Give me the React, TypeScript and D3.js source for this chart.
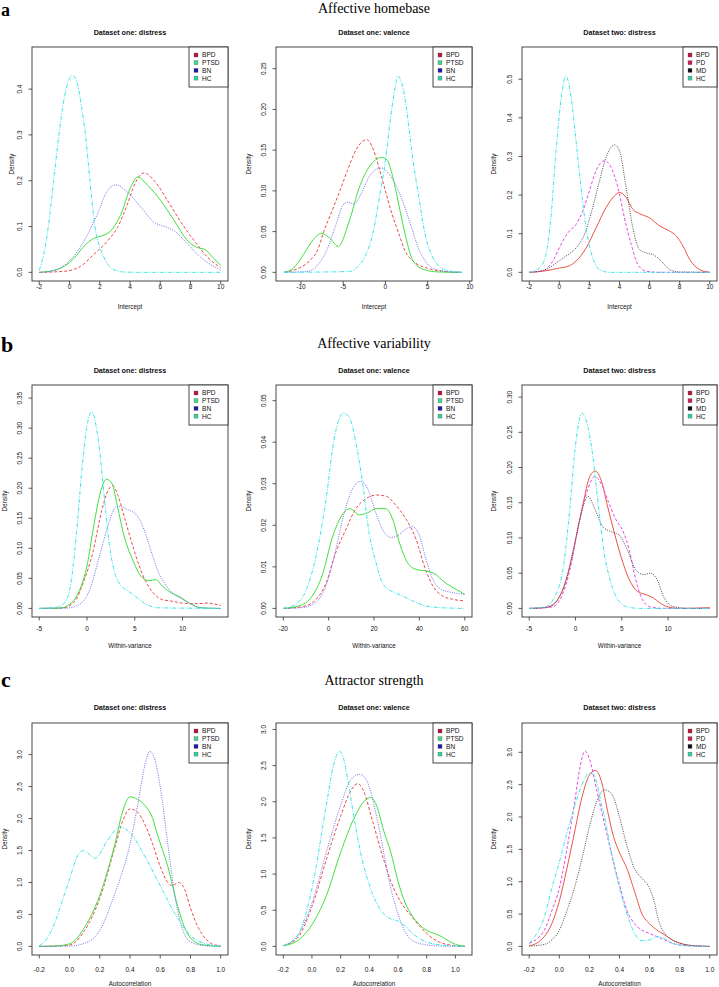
import React from 'react';
import * as d3 from 'd3';

type Pt = [number, number];

const groupsOne = ['BPD', 'PTSD', 'BN', 'HC'];
const groupsTwo = ['BPD', 'PD', 'MD', 'HC'];
const sectionLetters = ['a', 'b', 'c'];
const sectionTitles = ['Affective homebase', 'Affective variability', 'Attractor strength'];
const panelTitles = ['Dataset one: distress', 'Dataset one: valence', 'Dataset two: distress'];
const xAxisTitles = ['Intercept', 'Within-variance', 'Autocorrelation'];

// data limits (R xlim / ylim) per panel, row-major
const xLimits: Pt[] = [[-2, 10], [-12.1, 9.4], [-2, 10], [-5, 14], [-20, 60], [-5, 14.5], [-0.2, 1], [-0.2, 1.065], [-0.2, 1]];
const yMaxLimits = [0.473, 0.266, 0.561, 0.3575, 0.0517, 0.305, 3.36, 2.97, 3.32];
const xTickValues = [
  [-2, 0, 2, 4, 6, 8, 10], [-10, -5, 0, 5, 10], [-2, 0, 2, 4, 6, 8, 10],
  [-5, 0, 5, 10], [-20, 0, 20, 40, 60], [-5, 0, 5, 10],
  [-0.2, 0, 0.2, 0.4, 0.6, 0.8, 1], [-0.2, 0, 0.2, 0.4, 0.6, 0.8, 1], [-0.2, 0, 0.2, 0.4, 0.6, 0.8, 1],
];
const xTickDecimals = [0, 0, 0, 0, 0, 0, 1, 1, 1];
const yTickValues = [
  [0, 0.1, 0.2, 0.3, 0.4], [0, 0.05, 0.1, 0.15, 0.2, 0.25], [0, 0.1, 0.2, 0.3, 0.4, 0.5],
  [0, 0.05, 0.1, 0.15, 0.2, 0.25, 0.3, 0.35], [0, 0.01, 0.02, 0.03, 0.04, 0.05], [0, 0.05, 0.1, 0.15, 0.2, 0.25, 0.3],
  [0, 0.5, 1, 1.5, 2, 2.5, 3], [0, 0.5, 1, 1.5, 2, 2.5, 3], [0, 0.5, 1, 1.5, 2, 2.5, 3],
];
const yTickDecimals = [1, 2, 1, 2, 2, 2, 1, 1, 1];

// ---- a: Affective homebase ----
const a1BPD: Pt[] = [[-2, 0], [-1, 0.001], [-0.16, 0.003], [0.73, 0.013], [1.6, 0.039], [2.5, 0.068], [3.17, 0.098], [3.83, 0.149], [4.28, 0.19], [4.72, 0.214], [4.95, 0.217], [5.6, 0.2], [6.5, 0.156], [7.38, 0.109], [8.27, 0.068], [9.16, 0.032], [10, 0.01]];
const a1PTSD: Pt[] = [[-2, 0], [-0.82, 0.006], [0.28, 0.03], [0.95, 0.057], [1.6, 0.074], [2.06, 0.079], [2.72, 0.09], [3.4, 0.127], [4.05, 0.186], [4.5, 0.208], [5.17, 0.19], [6.05, 0.156], [6.94, 0.112], [7.83, 0.068], [8.49, 0.054], [8.94, 0.05], [9.5, 0.032], [10, 0.015]];
const a1BN: Pt[] = [[-2, 0], [-1.27, 0.002], [-0.6, 0.01], [-0.16, 0.02], [0.95, 0.068], [1.84, 0.127], [2.5, 0.178], [3.06, 0.191], [3.83, 0.175], [4.72, 0.142], [5.6, 0.109], [6.38, 0.099], [6.94, 0.09], [7.83, 0.061], [8.7, 0.032], [10, 0.005]];
const a1HC: Pt[] = [[-2, 0.005], [-1.7, 0.04], [-1.4, 0.1], [-1.05, 0.2], [-0.7, 0.3], [-0.35, 0.38], [-0.1, 0.415], [0.2, 0.43], [0.5, 0.415], [0.8, 0.36], [1.06, 0.3], [1.35, 0.2], [1.68, 0.1], [2.06, 0.05], [2.4, 0.025], [2.8, 0.008], [3.5, 0.001], [4.5, 0], [10, 0]];

const a2BPD: Pt[] = [[-12, 0], [-10.5, 0.004], [-9, 0.014], [-8, 0.028], [-7.3, 0.05], [-6.3, 0.076], [-5.4, 0.1], [-4.5, 0.125], [-3.5, 0.15], [-2.8, 0.16], [-2.2, 0.163], [-1.6, 0.155], [-0.8, 0.13], [0, 0.1], [0.8, 0.071], [1.6, 0.047], [2.3, 0.027], [3.5, 0.012], [5, 0.005], [7, 0.001], [9, 0]];
const a2PTSD: Pt[] = [[-12, 0], [-10.9, 0.005], [-9.7, 0.022], [-8.55, 0.04], [-7.6, 0.048], [-6.6, 0.042], [-5.6, 0.032], [-4.28, 0.063], [-3.1, 0.104], [-1.95, 0.129], [-1.17, 0.138], [-0.47, 0.141], [0.2, 0.138], [0.78, 0.121], [1.17, 0.104], [1.75, 0.075], [2.33, 0.047], [3.1, 0.018], [3.9, 0.007], [4.7, 0.003], [6.2, 0.0005], [9, 0]];
const a2BN: Pt[] = [[-12, 0], [-9.3, 0.001], [-8.2, 0.007], [-7, 0.026], [-5.84, 0.059], [-5.06, 0.082], [-4.5, 0.086], [-3.7, 0.084], [-2.9, 0.096], [-1.95, 0.117], [-0.97, 0.127], [-0.4, 0.128], [0.4, 0.121], [1.56, 0.1], [2.33, 0.079], [3.1, 0.055], [3.9, 0.03], [4.86, 0.012], [6.2, 0.003], [7.8, 0.0005], [9, 0]];
const a2HC: Pt[] = [[-12, 0], [-4.3, 0.001], [-3.1, 0.009], [-2.3, 0.022], [-1.5, 0.047], [-0.78, 0.088], [0, 0.137], [0.58, 0.187], [1.17, 0.228], [1.44, 0.241], [1.95, 0.232], [2.53, 0.199], [3.1, 0.15], [3.9, 0.096], [4.7, 0.047], [5.45, 0.022], [6.2, 0.009], [7.4, 0.002], [9.2, 0]];

const a3BPD: Pt[] = [[-2, 0], [-0.89, 0.004], [0, 0.011], [0.67, 0.017], [1.11, 0.029], [1.78, 0.063], [2.44, 0.115], [3.11, 0.168], [3.67, 0.198], [4, 0.207], [4.44, 0.194], [4.89, 0.163], [5.33, 0.152], [6, 0.141], [6.67, 0.12], [7.33, 0.107], [7.78, 0.094], [8.22, 0.068], [8.67, 0.033], [9.33, 0.007], [10, 0]];
const a3PD: Pt[] = [[-2, 0], [-1.1, 0.004], [-0.44, 0.029], [0, 0.063], [0.33, 0.088], [0.67, 0.107], [1.11, 0.124], [1.56, 0.159], [2, 0.211], [2.44, 0.263], [3, 0.289], [3.44, 0.272], [3.89, 0.22], [4.33, 0.141], [4.78, 0.072], [5.22, 0.02], [5.78, 0.003], [6.67, 0], [10, 0]];
const a3MD: Pt[] = [[-2, 0], [-0.89, 0.007], [-0.22, 0.024], [0.44, 0.042], [1.11, 0.063], [1.67, 0.098], [2.22, 0.168], [2.67, 0.237], [3.11, 0.298], [3.67, 0.33], [4, 0.315], [4.44, 0.22], [4.89, 0.115], [5.33, 0.059], [5.78, 0.05], [6.22, 0.046], [6.78, 0.029], [7.33, 0.007], [8, 0.001], [10, 0]];
const a3HC: Pt[] = [[-2, 0], [-1.33, 0.011], [-0.89, 0.046], [-0.56, 0.141], [-0.22, 0.315], [0.11, 0.445], [0.44, 0.508], [0.78, 0.454], [1.11, 0.341], [1.44, 0.22], [1.78, 0.115], [2.22, 0.037], [2.67, 0.007], [3.33, 0], [10, 0]];

// ---- b: Affective variability ----
const b1BPD: Pt[] = [[-5, 0], [-2.5, 0.001], [-1.27, 0.012], [-0.39, 0.043], [0.6, 0.093], [1.5, 0.16], [2.2, 0.196], [2.7, 0.204], [3.2, 0.19], [3.76, 0.16], [4.47, 0.121], [5.35, 0.076], [6.05, 0.048], [6.93, 0.026], [7.8, 0.015], [8.87, 0.012], [9.9, 0.009], [11, 0.008], [11.8, 0.008], [12.7, 0.009], [13.4, 0.007], [14, 0.005]];
const b1PTSD: Pt[] = [[-5, 0], [-2.85, 0.0005], [-1.8, 0.007], [-0.74, 0.032], [0, 0.071], [0.7, 0.137], [1.4, 0.193], [2.04, 0.215], [2.64, 0.207], [3.17, 0.171], [3.87, 0.121], [4.75, 0.082], [5.63, 0.054], [6.5, 0.046], [7.2, 0.048], [7.9, 0.037], [8.8, 0.026], [9.85, 0.018], [10.7, 0.009], [11.96, 0.001], [14, 0]];
const b1BN: Pt[] = [[-5, 0], [-2.15, 0.0005], [-0.74, 0.007], [0.3, 0.032], [1.4, 0.093], [2.3, 0.143], [2.96, 0.168], [3.3, 0.17], [4.2, 0.165], [5.25, 0.154], [5.95, 0.132], [6.66, 0.098], [7.36, 0.065], [8.06, 0.043], [8.94, 0.026], [10, 0.015], [10.9, 0.007], [12, 0.001], [14, 0]];
const b1HC: Pt[] = [[-5, 0], [-3.56, 0.001], [-2.5, 0.007], [-1.8, 0.032], [-1.1, 0.126], [-0.56, 0.226], [0, 0.304], [0.49, 0.327], [0.95, 0.304], [1.3, 0.265], [1.83, 0.182], [2.36, 0.104], [2.89, 0.06], [3.6, 0.037], [4.3, 0.029], [5, 0.021], [6.06, 0.008], [7.5, 0.001], [14, 0]];

const b2BPD: Pt[] = [[-20, 0], [-11.7, 0.0004], [-5.8, 0.002], [-1.2, 0.006], [3.2, 0.0135], [7.6, 0.019], [12, 0.024], [16.5, 0.0264], [20.8, 0.0273], [25.3, 0.027], [29.7, 0.0248], [34.1, 0.0215], [38.5, 0.0167], [42.2, 0.0102], [45.9, 0.0054], [50.3, 0.003], [54.7, 0.0022], [60, 0.0018]];
const b2PTSD: Pt[] = [[-20, 0], [-13.1, 0.0006], [-7.2, 0.003], [-2.8, 0.008], [1.6, 0.017], [5.4, 0.022], [9.5, 0.024], [13.5, 0.0225], [17.2, 0.023], [20.8, 0.024], [25.2, 0.024], [28.2, 0.0215], [31.1, 0.016], [34.8, 0.011], [38.5, 0.0094], [42.9, 0.009], [45.9, 0.0086], [51.8, 0.006], [56.2, 0.0046], [60, 0.0034]];
const b2BN: Pt[] = [[-20, 0], [-11.7, 0.0002], [-5.8, 0.0014], [-1.2, 0.0054], [3.2, 0.0143], [6.9, 0.023], [10.6, 0.0288], [14.2, 0.0306], [17.2, 0.0288], [20.8, 0.023], [24.5, 0.0183], [27.5, 0.0171], [30.4, 0.0175], [34.1, 0.0191], [37, 0.0197], [40, 0.0175], [42.9, 0.0119], [45.9, 0.007], [49.6, 0.0046], [54.7, 0.0038], [60, 0.0034]];
const b2HC: Pt[] = [[-20, 0], [-14.6, 0.001], [-10.2, 0.004], [-5.8, 0.012], [-1.2, 0.026], [2.5, 0.041], [6.5, 0.047], [9.1, 0.046], [12, 0.04], [15, 0.03], [17.9, 0.018], [20.9, 0.011], [23.8, 0.006], [28.2, 0.004], [32.6, 0.003], [37, 0.0018], [42.9, 0.0006], [48.8, 0.0002], [60, 0]];

const b3BPD: Pt[] = [[-5, 0], [-3.3, 0.001], [-2.23, 0.008], [-1.13, 0.036], [-0.07, 0.093], [0.82, 0.149], [1.53, 0.187], [2.13, 0.195], [2.77, 0.182], [3.48, 0.144], [4.2, 0.107], [4.9, 0.074], [5.8, 0.041], [6.7, 0.024], [7.5, 0.02], [8.4, 0.015], [9.1, 0.008], [10, 0.002], [11.24, 0], [14.5, 0.001]];
const b3PD: Pt[] = [[-5, 0], [-2.55, 0.002], [-1.5, 0.017], [-0.6, 0.055], [0.28, 0.116], [1.17, 0.163], [2.06, 0.187], [2.77, 0.177], [3.48, 0.154], [4.37, 0.126], [5.08, 0.111], [5.8, 0.083], [6.5, 0.041], [7.2, 0.013], [8.1, 0.002], [9.5, 0], [14.5, 0]];
const b3MD: Pt[] = [[-5, 0], [-2.9, 0.002], [-1.5, 0.022], [-0.43, 0.069], [0.46, 0.126], [1.35, 0.159], [2.06, 0.142], [2.95, 0.116], [3.83, 0.109], [4.72, 0.104], [5.6, 0.083], [6.5, 0.055], [7.4, 0.048], [8.1, 0.05], [8.8, 0.041], [9.5, 0.017], [10.5, 0.003], [12.3, 0], [14.5, 0]];
const b3HC: Pt[] = [[-5, 0], [-3.3, 0.002], [-2.23, 0.017], [-1.3, 0.06], [-0.6, 0.144], [-0.07, 0.224], [0.71, 0.277], [1.35, 0.257], [1.88, 0.215], [2.4, 0.154], [3.1, 0.079], [3.83, 0.036], [4.54, 0.013], [5.6, 0.002], [7, 0], [14.5, 0]];

// ---- c: Attractor strength ----
const c1BPD: Pt[] = [[-0.2, 0], [0, 0.02], [0.1, 0.25], [0.2, 0.75], [0.3, 1.55], [0.35, 1.95], [0.4, 2.15], [0.45, 2.1], [0.5, 1.9], [0.55, 1.6], [0.6, 1.25], [0.65, 1.0], [0.68, 0.95], [0.72, 1.0], [0.76, 0.9], [0.8, 0.6], [0.85, 0.3], [0.9, 0.12], [0.95, 0.03], [1, 0.01]];
const c1PTSD: Pt[] = [[-0.2, 0], [-0.1, 0.005], [0, 0.04], [0.1, 0.3], [0.2, 0.8], [0.3, 1.6], [0.35, 2.1], [0.4, 2.34], [0.45, 2.3], [0.5, 2.2], [0.55, 2.0], [0.58, 1.76], [0.65, 1.25], [0.716, 0.62], [0.78, 0.2], [0.87, 0.03], [1, 0]];
const c1BN: Pt[] = [[-0.2, 0], [0, 0.005], [0.1, 0.05], [0.2, 0.25], [0.3, 0.83], [0.4, 1.6], [0.45, 2.2], [0.5, 2.85], [0.53, 3.05], [0.56, 2.95], [0.6, 2.5], [0.65, 1.6], [0.7, 0.75], [0.75, 0.25], [0.8, 0.07], [0.9, 0.01], [1, 0]];
const c1HC: Pt[] = [[-0.2, 0.01], [-0.15, 0.12], [-0.1, 0.35], [-0.05, 0.7], [0, 1.05], [0.05, 1.4], [0.09, 1.5], [0.17, 1.38], [0.25, 1.65], [0.33, 1.87], [0.4, 1.78], [0.5, 1.4], [0.6, 0.95], [0.7, 0.5], [0.8, 0.17], [0.9, 0.04], [1, 0]];

const c2BPD: Pt[] = [[-0.2, 0.01], [-0.1, 0.12], [0, 0.55], [0.1, 1.2], [0.2, 1.8], [0.27, 2.15], [0.32, 2.25], [0.36, 2.15], [0.42, 1.75], [0.5, 1.2], [0.55, 0.9], [0.6, 0.68], [0.7, 0.4], [0.75, 0.28], [0.8, 0.18], [0.85, 0.1], [0.9, 0.05], [1, 0.01], [1.065, 0]];
const c2PTSD: Pt[] = [[-0.2, 0.01], [-0.1, 0.08], [0, 0.3], [0.1, 0.7], [0.2, 1.3], [0.3, 1.8], [0.37, 2.02], [0.41, 2.06], [0.45, 1.95], [0.5, 1.6], [0.55, 1.3], [0.6, 0.9], [0.65, 0.6], [0.7, 0.42], [0.75, 0.3], [0.8, 0.22], [0.85, 0.18], [0.9, 0.14], [0.95, 0.08], [1, 0.03], [1.065, 0.005]];
const c2BN: Pt[] = [[-0.2, 0.01], [-0.1, 0.15], [0, 0.6], [0.1, 1.3], [0.2, 1.95], [0.27, 2.3], [0.33, 2.38], [0.38, 2.3], [0.45, 1.8], [0.5, 1.3], [0.55, 0.8], [0.6, 0.45], [0.65, 0.2], [0.7, 0.08], [0.8, 0.02], [0.9, 0.005], [1.065, 0]];
const c2HC: Pt[] = [[-0.2, 0.01], [-0.1, 0.15], [0, 0.8], [0.1, 1.95], [0.15, 2.5], [0.19, 2.7], [0.22, 2.6], [0.25, 2.3], [0.3, 1.7], [0.35, 1.2], [0.4, 0.85], [0.45, 0.6], [0.5, 0.45], [0.55, 0.38], [0.6, 0.35], [0.65, 0.28], [0.7, 0.18], [0.8, 0.06], [0.9, 0.02], [1, 0.005], [1.065, 0]];

const c3BPD: Pt[] = [[-0.2, 0.01], [-0.15, 0.05], [-0.1, 0.15], [-0.05, 0.35], [0, 0.7], [0.05, 1.2], [0.1, 1.75], [0.15, 2.3], [0.2, 2.65], [0.24, 2.72], [0.28, 2.55], [0.32, 2.1], [0.36, 1.7], [0.4, 1.45], [0.45, 1.2], [0.5, 0.85], [0.55, 0.5], [0.6, 0.35], [0.65, 0.25], [0.7, 0.18], [0.75, 0.1], [0.8, 0.05], [0.9, 0.01], [1, 0]];
const c3PD: Pt[] = [[-0.2, 0.05], [-0.1, 0.25], [-0.05, 0.55], [0, 0.9], [0.05, 1.5], [0.1, 2.2], [0.14, 2.8], [0.17, 3.02], [0.2, 2.9], [0.25, 2.4], [0.3, 1.9], [0.35, 1.4], [0.4, 0.95], [0.45, 0.55], [0.5, 0.35], [0.55, 0.25], [0.6, 0.2], [0.65, 0.15], [0.7, 0.1], [0.75, 0.05], [0.8, 0.02], [0.9, 0.005], [1, 0]];
const c3MD: Pt[] = [[-0.2, 0.005], [-0.1, 0.03], [-0.05, 0.1], [0, 0.25], [0.05, 0.55], [0.1, 0.9], [0.15, 1.35], [0.2, 1.85], [0.25, 2.25], [0.3, 2.42], [0.35, 2.35], [0.4, 2.0], [0.45, 1.55], [0.5, 1.2], [0.55, 1.05], [0.6, 0.9], [0.63, 0.7], [0.66, 0.4], [0.7, 0.2], [0.75, 0.1], [0.8, 0.05], [0.9, 0.01], [1, 0]];
const c3HC: Pt[] = [[-0.2, 0.05], [-0.15, 0.2], [-0.1, 0.45], [-0.05, 0.9], [0, 1.3], [0.05, 1.75], [0.1, 2.15], [0.15, 2.5], [0.2, 2.68], [0.23, 2.65], [0.28, 2.2], [0.3, 2.0], [0.35, 1.4], [0.4, 0.9], [0.45, 0.5], [0.5, 0.2], [0.55, 0.09], [0.6, 0.1], [0.65, 0.15], [0.7, 0.12], [0.75, 0.05], [0.8, 0.02], [0.9, 0.005], [1, 0]];

const panelSeries: Pt[][][] = [
  [a1BPD, a1PTSD, a1BN, a1HC], [a2BPD, a2PTSD, a2BN, a2HC], [a3BPD, a3PD, a3MD, a3HC],
  [b1BPD, b1PTSD, b1BN, b1HC], [b2BPD, b2PTSD, b2BN, b2HC], [b3BPD, b3PD, b3MD, b3HC],
  [c1BPD, c1PTSD, c1BN, c1HC], [c2BPD, c2PTSD, c2BN, c2HC], [c3BPD, c3PD, c3MD, c3HC],
];

// ---- styles ----
const lineStyleOne = [
  { color: '#f04848', dash: '3,2' },
  { color: '#3fe03f', dash: '' },
  { color: '#6e6eee', dash: '1,1.3' },
  { color: '#3fe4ea', dash: '4,1.5,1,1.5' },
];
const lineStyleTwo = [
  { color: '#ec5445', dash: '' },
  { color: '#e648e6', dash: '3,2' },
  { color: '#4a4a4a', dash: '1,1.3' },
  { color: '#3fe4ea', dash: '4,1.5,1,1.5' },
];
const legendFillOne = ['#b8173d', '#3ed98a', '#1b1ba3', '#33d19e'];
const legendFillTwo = ['#b8173d', '#c81e55', '#111111', '#33d19e'];

// ---- layout ----
const W = 719;
const H = 987;
const colLeft = [32, 276, 522];
const colRight = [228, 472, 717];
const rowTop = [47, 385, 723];
const rowBottom = [281, 617, 955];
const densityX = [[12, 249, 494], [5, 249, 494], [5, 249, 494]];
const xLabelY = [289, 631, 972];
const xTitleY = [309, 648, 986];
const subtitleY = [34.5, 372.5, 709.5];
const sectionTitleY = [12.5, 348, 685];
const letterY = [16, 352, 687];

const SANS = '"Liberation Sans", Arial, Helvetica, sans-serif';
const SERIF = '"Liberation Serif", "Times New Roman", serif';

function Panel({ idx }: { idx: number }) {
  const row = Math.floor(idx / 3);
  const col = idx % 3;
  const left = colLeft[col];
  const right = colRight[col];
  const top = rowTop[row];
  const bottom = rowBottom[row];
  const [x0, x1] = xLimits[idx];
  const xPad = (x1 - x0) * 0.04;
  const yMax = yMaxLimits[idx];
  const yPad = yMax * 0.04;
  const x = d3.scaleLinear().domain([x0 - xPad, x1 + xPad]).range([left, right]);
  const y = d3.scaleLinear().domain([-yPad, yMax + yPad]).range([bottom, top]);
  const line = d3
    .line<Pt>()
    .x((d) => x(d[0]))
    .y((d) => y(d[1]))
    .curve(d3.curveMonotoneX);
  const isTwo = col === 2;
  const groups = isTwo ? groupsTwo : groupsOne;
  const styles = isTwo ? lineStyleTwo : lineStyleOne;
  const fills = isTwo ? legendFillTwo : legendFillOne;
  const legW = isTwo ? 34 : 39;
  const legL = right - legW;
  const cx = (left + right) / 2;
  const cy = (top + bottom) / 2;
  const xt = xTickValues[idx];
  const yt = yTickValues[idx];
  const clipId = `clip-${idx}`;
  return (
    <g>
      <defs>
        <clipPath id={clipId}>
          <rect x={left} y={top} width={right - left} height={bottom - top} />
        </clipPath>
      </defs>
      <text x={cx} y={subtitleY[row]} textAnchor="middle" fontFamily={SANS} fontWeight="bold" fontSize={7.2} fill="#111">
        {panelTitles[col]}
      </text>
      <g clipPath={`url(#${clipId})`}>
        {panelSeries[idx].map((s, i) => (
          <path
            key={i}
            d={line(s) || ''}
            fill="none"
            stroke={styles[i].color}
            strokeWidth={1}
            strokeDasharray={styles[i].dash || undefined}
          />
        ))}
      </g>
      <rect x={left} y={top} width={right - left} height={bottom - top} fill="none" stroke="#333" strokeWidth={0.9} />
      {xt.map((v) => (
        <g key={`x${v}`}>
          <line x1={x(v)} x2={x(v)} y1={bottom} y2={bottom + 3.5} stroke="#333" strokeWidth={0.8} />
          <text x={x(v)} y={xLabelY[row]} textAnchor="middle" fontFamily={SANS} fontSize={6.5} fill="#111">
            {v.toFixed(xTickDecimals[idx])}
          </text>
        </g>
      ))}
      {yt.map((v) => (
        <g key={`y${v}`}>
          <line x1={left} x2={left - 3.5} y1={y(v)} y2={y(v)} stroke="#333" strokeWidth={0.8} />
          <text
            transform={`translate(${left - 10.5},${y(v)}) rotate(-90)`}
            textAnchor="middle"
            fontFamily={SANS}
            fontSize={6.5}
            fill="#111"
          >
            {v.toFixed(yTickDecimals[idx])}
          </text>
        </g>
      ))}
      <text x={cx} y={xTitleY[row]} textAnchor="middle" fontFamily={SANS} fontSize={6.3} fill="#111">
        {xAxisTitles[row]}
      </text>
      <text
        transform={`translate(${densityX[row][col] + 2},${cy}) rotate(-90)`}
        textAnchor="middle"
        fontFamily={SANS}
        fontSize={6.3}
        fill="#111"
      >
        Density
      </text>
      <rect x={legL} y={top} width={legW} height={40} fill="#fff" stroke="#333" strokeWidth={0.9} />
      {groups.map((g, i) => {
        const ly = top + 8 + i * 7.7;
        return (
          <g key={g}>
            <rect x={legL + 5} y={ly - 2} width={4} height={4} fill={fills[i]} stroke="#555" strokeWidth={0.3} />
            <text x={legL + 13} y={ly + 2.4} fontFamily={SANS} fontSize={6.6} fill="#111">
              {g}
            </text>
          </g>
        );
      })}
    </g>
  );
}

export default function App() {
  return (
    <svg
      width={W}
      height={H}
      viewBox={`0 0 ${W} ${H}`}
      style={{ position: 'absolute', left: 0, top: 0, background: '#fff' }}
    >
      <rect x={0} y={0} width={W} height={H} fill="#fff" />
      {sectionTitles.map((t, r) => (
        <g key={t}>
          <text x={1} y={letterY[r]} fontFamily={SERIF} fontWeight="bold" fontSize={r === 0 ? 18 : 22} fill="#000">
            {sectionLetters[r]}
          </text>
          <text x={374} y={sectionTitleY[r]} textAnchor="middle" fontFamily={SERIF} fontSize={14} fill="#000">
            {t}
          </text>
        </g>
      ))}
      {d3.range(9).map((i) => (
        <Panel key={i} idx={i} />
      ))}
    </svg>
  );
}
